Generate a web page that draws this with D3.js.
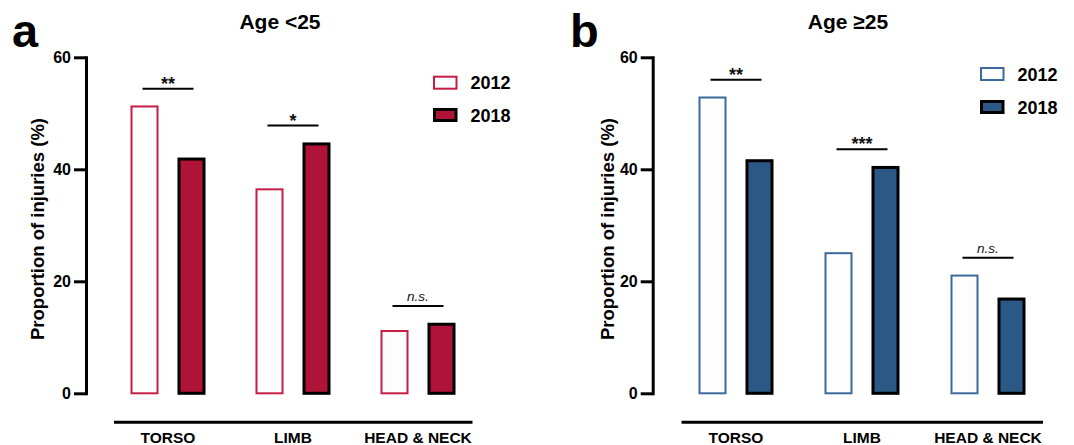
<!DOCTYPE html>
<html>
<head>
<meta charset="utf-8">
<script src="https://cdn.jsdelivr.net/npm/d3@7"></script>
<style>
  html, body { margin: 0; padding: 0; background: #fff; }
  svg { display: block; font-family: "Liberation Sans", Arial, Helvetica, sans-serif; }
</style>
</head>
<body>
<svg id="chart" width="1074" height="445"></svg>
<script>
// ---- data ----
const categories = ["TORSO", "LIMB", "HEAD & NECK"];
const years = ["2012", "2018"];
const under25_2012 = [51.4, 36.6, 11.3];
const under25_2018 = [42.1, 44.8, 12.6];
const over25_2012 = [53.0, 25.2, 21.2];
const over25_2018 = [41.8, 40.6, 17.1];
const sigUnder25 = ["**", "*", "n.s."];
const sigOver25 = ["**", "***", "n.s."];
const yTicks = [0, 20, 40, 60];
const yMax = 60;
const yLabel = "Proportion of injuries (%)";

const svg = d3.select("#chart");

function drawPanel(cfg) {
  const g = svg.append("g");
  const y = d3.scaleLinear().domain([0, yMax]).range([393.3, 57.3]);
  const x = d3.scaleBand().domain(categories).range(cfg.xRange);
  const x1 = d3.scaleBand().domain(years).range([-37.5, 37.5]).paddingInner(0.404).paddingOuter(0);

  const rows = categories.map((c, i) => ({ cat: c, v: [cfg.v2012[i], cfg.v2018[i]], sig: cfg.sig[i] }));

  // bars
  rows.forEach(r => {
    const cx = x(r.cat) + x.bandwidth() / 2;
    years.forEach((yr, j) => {
      const isNew = j === 1;
      const sw = isNew ? 3 : 2;
      g.append("rect")
        .attr("x", cx + x1(yr) + sw / 2)
        .attr("width", x1.bandwidth() - sw)
        .attr("y", y(r.v[j]) + sw / 2)
        .attr("height", y(0) - y(r.v[j]) - sw / 2)
        .attr("fill", isNew ? cfg.fill : "#fdfdfd")
        .attr("stroke", isNew ? "#000" : cfg.outline)
        .attr("stroke-width", sw);
    });
    // significance bracket
    const by = y(d3.max(r.v) + 3);
    const bx0 = cx + x1(years[0]) + x1.bandwidth() / 2 - 2;
    const bx1 = cx + x1(years[1]) + x1.bandwidth() / 2 + 2;
    g.append("line")
      .attr("x1", bx0).attr("x2", bx1).attr("y1", by).attr("y2", by)
      .attr("stroke", "#000").attr("stroke-width", 2);
    const ns = r.sig === "n.s.";
    g.append("text")
      .attr("x", (bx0 + bx1) / 2)
      .attr("y", ns ? by - 5 : by + 1)
      .attr("text-anchor", "middle")
      .attr("font-size", ns ? 13.5 : 18)
      .attr("font-style", ns ? "italic" : "normal")
      .attr("font-weight", ns ? "normal" : "bold")
      .attr("fill", "#111")
      .text(r.sig);
  });

  // y axis
  const ax = g.append("g")
    .attr("transform", `translate(${cfg.axisX},0)`)
    .call(d3.axisLeft(y).tickValues(yTicks).tickSize(12).tickSizeOuter(0).tickPadding(3));
  ax.select(".domain").attr("stroke", "#000").attr("stroke-width", 3).attr("stroke-linecap", "square");
  ax.selectAll(".tick line").attr("stroke", "#000").attr("stroke-width", 3);
  ax.selectAll(".tick text")
    .attr("font-family", "'Liberation Sans', Arial, sans-serif")
    .attr("font-size", 16).attr("font-weight", "bold").attr("fill", "#000");

  // x baseline line
  g.append("line")
    .attr("x1", cfg.xRange[0] + 8.5).attr("x2", cfg.xRange[1] - 8)
    .attr("y1", 422.3).attr("y2", 422.3)
    .attr("stroke", "#000").attr("stroke-width", 3);

  // category labels
  g.selectAll("text.cat").data(categories).enter().append("text")
    .attr("class", "cat")
    .attr("x", d => x(d) + x.bandwidth() / 2)
    .attr("y", 443)
    .attr("text-anchor", "middle")
    .attr("font-size", 15.5).attr("font-weight", "bold").attr("fill", "#000")
    .text(d => d);

  // y label
  g.append("text")
    .attr("transform", `translate(${cfg.ylabelX},229) rotate(-90)`)
    .attr("text-anchor", "middle")
    .attr("font-size", 18.5).attr("font-weight", "bold").attr("fill", "#000")
    .text(yLabel);

  // title
  g.append("text")
    .attr("x", cfg.titleX).attr("y", 28.5)
    .attr("text-anchor", "middle")
    .attr("font-size", 21).attr("font-weight", "bold").attr("fill", "#000")
    .text(cfg.title);

  // panel letter
  g.append("text")
    .attr("x", cfg.letterX).attr("y", 47)
    .attr("font-size", 47).attr("font-weight", "bold").attr("fill", "#000")
    .text(cfg.letter);

  // legend
  years.forEach((yr, j) => {
    const isNew = j === 1;
    const sw = isNew ? 3 : 2;
    const cy = cfg.legendY[j];
    g.append("rect")
      .attr("x", cfg.legendX + sw / 2).attr("y", cy - 7 + sw / 2)
      .attr("width", 24.5 - sw).attr("height", 14 - sw)
      .attr("fill", isNew ? cfg.fill : "#fdfdfd")
      .attr("stroke", isNew ? "#000" : cfg.outline)
      .attr("stroke-width", sw);
    g.append("text")
      .attr("x", cfg.legendX + 37.5).attr("y", cy + 6.5)
      .attr("font-size", 18).attr("font-weight", "bold").attr("fill", "#000")
      .text(yr);
  });
}

drawPanel({
  v2012: under25_2012, v2018: under25_2018, sig: sigUnder25,
  fill: "#AF1438", outline: "#C41E45",
  xRange: [105.5, 480.5], axisX: 86, ylabelX: 44,
  title: "Age <25", titleX: 280, letter: "a", letterX: 12,
  legendX: 433, legendY: [82.7, 115]
});

drawPanel({
  v2012: over25_2012, v2018: over25_2018, sig: sigOver25,
  fill: "#2C5886", outline: "#3D6A9B",
  xRange: [673, 1051], axisX: 652.7, ylabelX: 614,
  title: "Age ≥25", titleX: 848, letter: "b", letterX: 570,
  legendX: 980, legendY: [74, 107]
});
</script>
</body>
</html>
